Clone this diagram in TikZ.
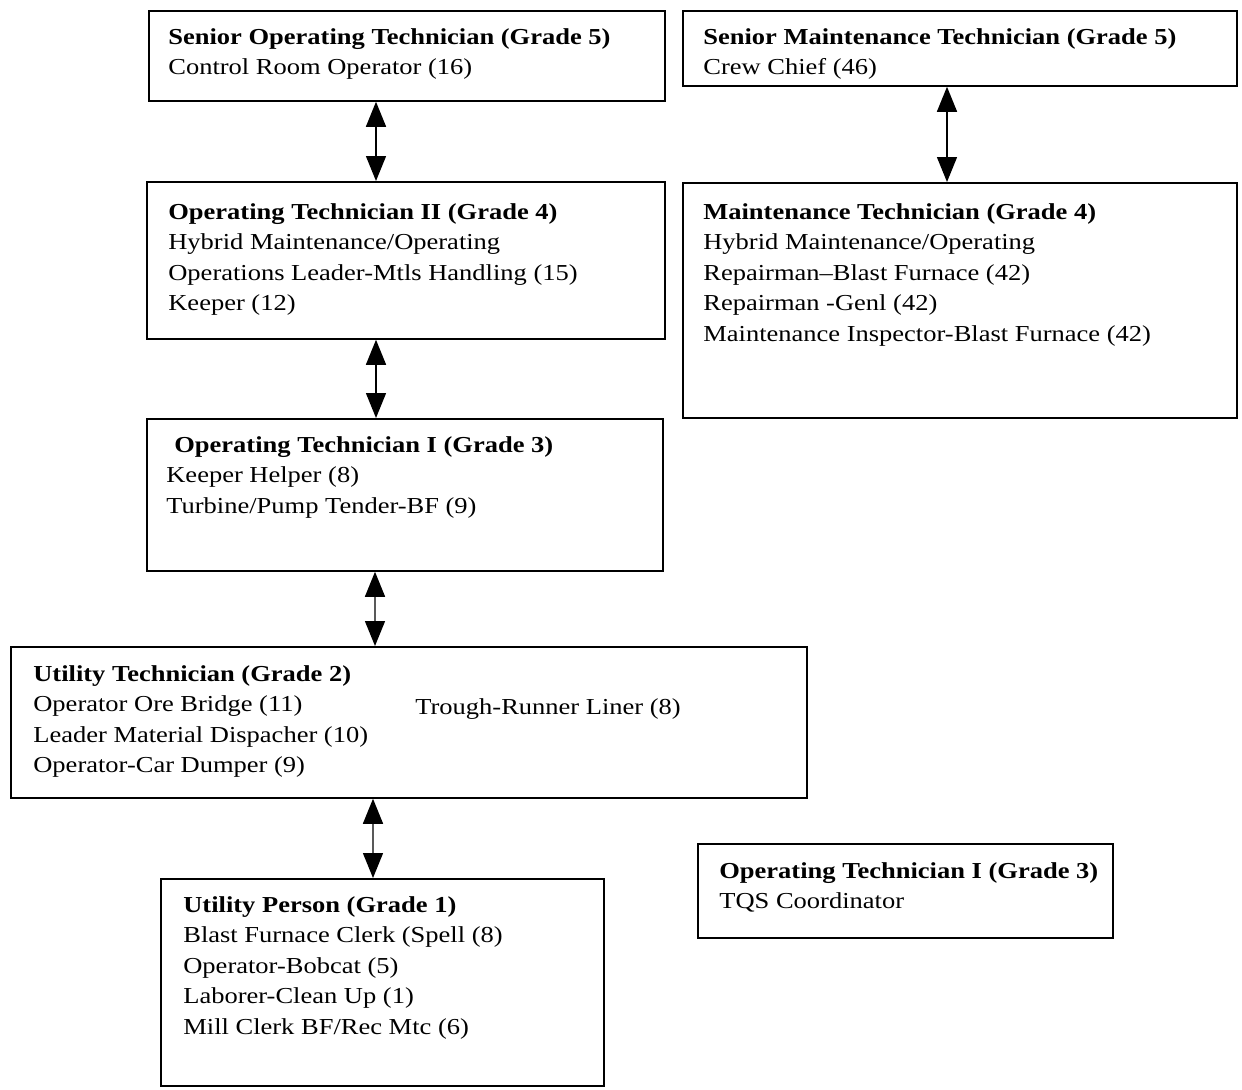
\documentclass[tikz,border=0pt]{standalone}
\usepackage{fontspec}
\setmainfont[FakeStretch=1.16]{Liberation Serif}
\usetikzlibrary{arrows.meta}
\begin{document}
\begin{tikzpicture}[boxStyle/.style={rectangle, draw, line width=1pt, anchor=north west, inner sep=0pt}, textStyle/.style={anchor=north west, align=left, inner sep=0pt, font=\fontsize{13}{17.4}\selectfont}, arrowStyle/.style={{Triangle[width=0.4cm, length=0.5cm]}-{Triangle[width=0.4cm, length=0.5cm]}, line width=0.8pt}]
                    \useasboundingbox (0, 0) rectangle (24.84, -21.78);

                    \node[boxStyle, minimum width=10.32cm, minimum height=1.80cm](sot)  at ( 2.96,  -0.20) {};
                    \node[boxStyle, minimum width=10.36cm, minimum height=3.14cm](ot2)  at ( 2.92,  -3.62) {};
                    \node[boxStyle, minimum width=10.32cm, minimum height=3.04cm](ot1)  at ( 2.92,  -8.36) {};
                    \node[boxStyle, minimum width=15.92cm, minimum height=3.02cm](ut)   at ( 0.20, -12.92) {};
                    \node[boxStyle, minimum width=8.86cm,  minimum height=4.14cm](up)   at ( 3.20, -17.56) {};
                    \node[boxStyle, minimum width=11.08cm, minimum height=1.50cm](smt)  at (13.64,  -0.20) {};
                    \node[boxStyle, minimum width=11.08cm, minimum height=4.70cm](mt)   at (13.64,  -3.64) {};
                    \node[boxStyle, minimum width=8.30cm,  minimum height=1.88cm](ot1b) at (13.94, -16.86) {};

                    \node[textStyle](sot_T)  at ([shift={(0.40,-0.36)}]sot.north west)  {\textbf{Senior Operating Technician (Grade 5)}\\Control Room Operator (16)};
                    \node[textStyle](ot2_T)  at ([shift={(0.44,-0.44)}]ot2.north west)  {\textbf{Operating Technician II (Grade 4)}\\Hybrid Maintenance/Operating\\Operations Leader-Mtls Handling (15)\\Keeper (12)};
                    \node[textStyle](ot1_T)  at ([shift={(0.40,-0.36)}]ot1.north west)  {\hspace{0.16cm}\textbf{Operating Technician I (Grade 3)}\\Keeper Helper (8)\\Turbine/Pump Tender-BF (9)};
                    \node[textStyle](ut_T)   at ([shift={(0.46,-0.38)}]ut.north west)   {\textbf{Utility Technician (Grade 2)}\\Operator Ore Bridge (11)\\Leader Material Dispacher (10)\\Operator-Car Dumper (9)};
                    \node[textStyle](ut_T2)  at ([shift={(8.10,-1.04)}]ut.north west)   {Trough-Runner Liner (8)};
                    \node[textStyle](up_T)   at ([shift={(0.46,-0.36)}]up.north west)   {\textbf{Utility Person (Grade 1)}\\Blast Furnace Clerk (Spell (8)\\Operator-Bobcat (5)\\Laborer-Clean Up (1)\\Mill Clerk BF/Rec Mtc (6)};
                    \node[textStyle](smt_T)  at ([shift={(0.42,-0.36)}]smt.north west)  {\textbf{Senior Maintenance Technician (Grade 5)}\\Crew Chief (46)};
                    \node[textStyle](mt_T)   at ([shift={(0.42,-0.42)}]mt.north west)   {\textbf{Maintenance Technician (Grade 4)}\\Hybrid Maintenance/Operating\\Repairman--Blast Furnace (42)\\Repairman -Genl (42)\\Maintenance Inspector-Blast Furnace (42)};
                    \node[textStyle](ot1b_T) at ([shift={(0.44,-0.38)}]ot1b.north west) {\textbf{Operating Technician I (Grade 3)}\\TQS Coordinator};

                    \draw[arrowStyle] ([xshift=4.56cm]sot.south west) -- ([xshift=4.60cm]ot2.north west);
                    \draw[arrowStyle] ([xshift=4.60cm]ot2.south west) -- ([xshift=4.60cm]ot1.north west);
                    \draw[arrowStyle] ([xshift=4.58cm]ot1.south west) -- ([xshift=7.30cm]ut.north west);
                    \draw[arrowStyle] ([xshift=7.26cm]ut.south west)  -- ([xshift=4.26cm]up.north west);
                    \draw[arrowStyle] ([xshift=5.30cm]smt.south west) -- ([xshift=5.30cm]mt.north west);
                \end{tikzpicture}
\end{document}
